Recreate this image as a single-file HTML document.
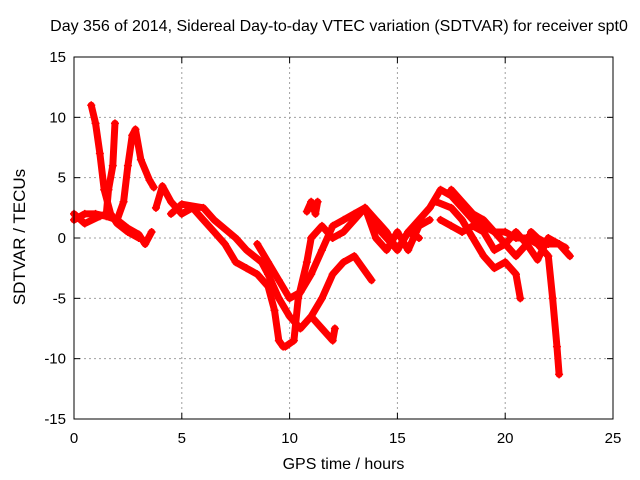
<!DOCTYPE html>
<html><head><meta charset="utf-8"><style>
body{margin:0;background:#fff}
svg{display:block;font-family:"Liberation Sans",sans-serif}
</style></head><body>
<svg id="c" width="640" height="480"></svg>
<script>
const xTicks=[0,5,10,15,20,25];
const yTicks=[-15,-10,-5,0,5,10,15];
const trackA=[[0,1.5],[0.5,2],[1,2],[1.5,1.8],[2,1.5],[2.5,0.8],[3,0.3],[3.3,-0.5],[3.6,0.5]];
const trackB=[[0.8,11],[1,9.5],[1.2,7],[1.4,4],[1.7,2],[2,1.2],[2.5,0.5],[3,0]];
const trackC=[[1.9,9.5],[1.8,6],[1.6,4],[1.5,2],[1.2,1.8],[0.5,1.2],[0,2]];
const trackD=[[2,1.5],[2.3,3],[2.5,6],[2.7,8.5],[2.85,9],[3.1,6.5],[3.5,4.8],[3.7,4.2]];
const trackE=[[3.8,2.5],[4.1,4.3],[4.5,3],[5,2],[5.5,2.5],[6,1.5],[6.5,0.5],[7,-0.5],[7.5,-2],[8,-2.5],[8.5,-3],[9,-4],[9.3,-6],[9.5,-8.5],[9.7,-9]];
const trackF=[[4.5,2],[5,2.8],[6,2.5],[6.5,1.5],[7.5,0],[8,-1],[8.7,-2],[9,-3],[9.5,-5],[10,-6.5],[10.5,-7.5],[11,-6.5],[11.5,-5],[12,-3],[12.5,-2],[13,-1.5],[13.8,-3.5]];
const trackG=[[8.5,-0.5],[9,-2],[9.5,-3.5],[10,-5],[10.5,-4.5],[11,-3],[11.5,-1],[12,1],[12.5,1.5],[13,2],[13.5,2.5],[14,1.5],[14.5,0.5],[15,-1],[15.5,0.5],[16,0]];
const trackH=[[9.8,-9],[10.2,-8.5],[10.4,-5],[10.8,-2],[11,0],[11.5,1],[12,0],[12.5,0.5],[13,1.5],[13.5,2.5],[14,0],[14.5,-1],[15,0.5],[15.5,-1],[16,1],[16.5,1.5]];
const trackI=[[10.8,2.2],[11,3],[11.2,2],[11.3,3]];
const trackJ=[[11,-6.5],[11.5,-7.5],[12,-8.5],[12.1,-7.5]];
const trackK=[[13.5,2.5],[14,1],[14.5,0],[15,-1],[15.5,0.5],[16,1.5],[16.5,2.5],[17,4],[17.5,3.5],[18,2.5],[18.5,1.5],[19,1],[19.5,0.5],[20,0.5],[20.5,0],[21,0],[21.5,-0.5],[22,-1.5],[22.2,-5],[22.4,-9],[22.5,-11.3]];
const trackL=[[16.8,3],[17.5,2.5],[18,1.5],[18.5,0],[19,-1.5],[19.5,-2.5],[20,-2],[20.5,-3],[20.7,-5]];
const trackM=[[17,1.5],[17.5,1],[18,0.5],[18.5,1],[19,0.5],[19.5,-1],[20,-0.5],[20.5,0.5],[21,-0.5],[21.5,-1.8],[22,0],[22.5,-0.5],[23,-1.5]];
const trackN=[[17.5,4],[18,3],[18.5,2],[19,1.5],[19.5,0.5],[20,-0.5],[20.5,-1.5],[21,-0.5],[21.2,0.5],[21.5,0],[22,-0.5],[22.5,-0.5],[22.8,-0.8]];
const tracks=[trackA,trackB,trackC,trackD,trackE,trackF,trackG,trackH,trackI,trackJ,trackK,trackL,trackM,trackN];

const L=74,R=613,T=57,B=419;
const sx=v=>L+(v-0)/25*(R-L);
const sy=v=>B-(v+15)/30*(B-T);
const svg=document.getElementById('c');
const NS='http://www.w3.org/2000/svg';
function mk(t,a,p){const e=document.createElementNS(NS,t);for(const k in a)e.setAttribute(k,a[k]);(p||svg).appendChild(e);return e;}
xTicks.forEach(v=>{if(v>0&&v<25){const g=mk('line',{x1:sx(v),x2:sx(v),y1:T,y2:B,stroke:'#a0a0a0','stroke-dasharray':'2,3'});

}
const t=mk('text',{x:sx(v),y:B+24,'text-anchor':'middle','font-size':15,fill:'#000'});t.textContent=v;


mk('line',{x1:sx(v),x2:sx(v),y1:B,y2:B-6,stroke:'#000'});mk('line',{x1:sx(v),x2:sx(v),y1:T,y2:T+6,stroke:'#000'});});
yTicks.forEach(v=>{if(v>-15&&v<15){const g=mk('line',{x1:L,x2:R,y1:sy(v),y2:sy(v),stroke:'#a0a0a0','stroke-dasharray':'2,3'});

}
const t=mk('text',{x:L-8,y:sy(v)+5,'text-anchor':'end','font-size':15,fill:'#000'});t.textContent=v;


mk('line',{x1:L,x2:L+6,y1:sy(v),y2:sy(v),stroke:'#000'});mk('line',{x1:R,x2:R-6,y1:sy(v),y2:sy(v),stroke:'#000'});});
tracks.forEach(tr=>{
const p=mk('polyline',{points:tr.map(d=>sx(d[0])+','+sy(d[1])).join(' '),fill:'none',stroke:'#ff0000','stroke-width':7,'stroke-linejoin':'round','stroke-linecap':'round'});


tr.forEach(d=>{const x=sx(d[0]),y=sy(d[1]);
const m=mk('path',{d:`M${x-4},${y}h8M${x},${y-4}v8`,stroke:'#ff0000','stroke-width':1.5});

});
});
const fr=mk('rect',{x:L,y:T,width:R-L,height:B-T,fill:'none',stroke:'#000'});


</script>
<div style="position:absolute;left:0;top:0;width:640px;height:480px;font-family:'Liberation Sans',sans-serif;pointer-events:none">
<div style="position:absolute;left:39px;width:600px;top:18px;text-align:center;font-size:16px;white-space:nowrap">Day 356 of 2014, Sidereal Day-to-day VTEC variation (SDTVAR) for receiver spt0</div>
<div style="position:absolute;left:74px;width:539px;top:456px;text-align:center;font-size:16px">GPS time / hours</div>
<div style="position:absolute;left:-80px;top:227px;width:200px;text-align:center;font-size:17px;transform:rotate(-90deg)">SDTVAR / TECUs</div>
</div>
</body></html>
